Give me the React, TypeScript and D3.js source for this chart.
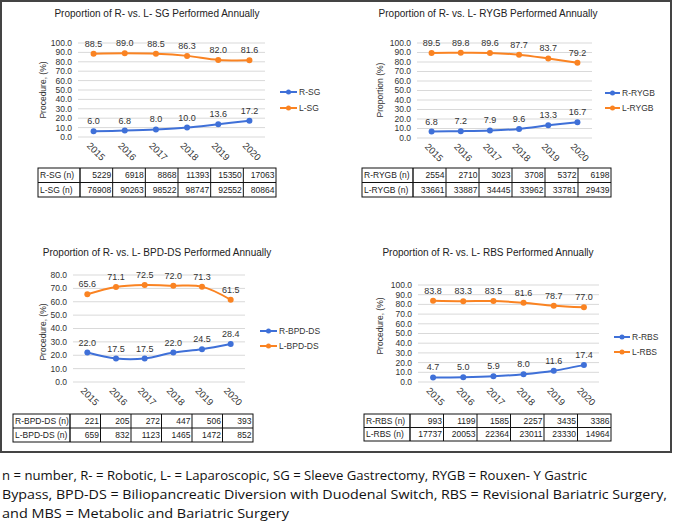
import React from 'react';
import * as d3 from 'd3';

const years = ['2015', '2016', '2017', '2018', '2019', '2020'];

const sgRobotic = [6.0, 6.8, 8.0, 10.0, 13.6, 17.2];
const sgLap = [88.5, 89.0, 88.5, 86.3, 82.0, 81.6];
const sgRoboticN = [5229, 6918, 8868, 11393, 15350, 17063];
const sgLapN = [76908, 90263, 98522, 98747, 92552, 80864];

const rygbRobotic = [6.8, 7.2, 7.9, 9.6, 13.3, 16.7];
const rygbLap = [89.5, 89.8, 89.6, 87.7, 83.7, 79.2];
const rygbRoboticN = [2554, 2710, 3023, 3708, 5372, 6198];
const rygbLapN = [33661, 33887, 34445, 33962, 33781, 29439];

const bpdRobotic = [22.0, 17.5, 17.5, 22.0, 24.5, 28.4];
const bpdLap = [65.6, 71.1, 72.5, 72.0, 71.3, 61.5];
const bpdRoboticN = [221, 205, 272, 447, 506, 393];
const bpdLapN = [659, 832, 1123, 1465, 1472, 852];

const rbsRobotic = [4.7, 5.0, 5.9, 8.0, 11.6, 17.4];
const rbsLap = [83.8, 83.3, 83.5, 81.6, 78.7, 77.0];
const rbsRoboticN = [993, 1199, 1585, 2257, 3435, 3386];
const rbsLapN = [17737, 20053, 22364, 23011, 23330, 14964];

const footerLines = [
  'n = number, R- = Robotic, L- = Laparoscopic, SG = Sleeve Gastrectomy, RYGB = Rouxen- Y Gastric',
  'Bypass, BPD-DS = Biliopancreatic Diversion with Duodenal Switch, RBS = Revisional Bariatric Surgery,',
  'and MBS = Metabolic and Bariatric Surgery',
];

const BLUE = '#3f70d8';
const ORANGE = '#fa8322';
const FONT = "'Liberation Sans', Arial, Helvetica, sans-serif";

type Layout = {
  titleX: number; titleY: number;
  left: number; right: number; top: number; bottom: number;
  yLabelX: number; yLabelY: number;
  legX1: number; legX2: number; legY1: number; legY2: number;
  tLeft: number; tLabelEnd: number; tRight: number; tTop: number; tBottom: number;
};

type PanelCfg = {
  title: string; rName: string; lName: string;
  rVals: number[]; lVals: number[]; rN: number[]; lN: number[];
  yMax: number; yLabel: string; lay: Layout;
};

const panels: PanelCfg[] = [
  {
    title: 'Proportion of R- vs. L- SG Performed Annually', rName: 'R-SG', lName: 'L-SG',
    rVals: sgRobotic, lVals: sgLap, rN: sgRoboticN, lN: sgLapN, yMax: 100, yLabel: 'Procedure, (%)',
    lay: { titleX: 157, titleY: 17, left: 78, right: 265, top: 43, bottom: 137, yLabelX: 43, yLabelY: 90,
      legX1: 280, legX2: 297, legY1: 92, legY2: 108, tLeft: 38, tLabelEnd: 80, tRight: 276, tTop: 168, tBottom: 197 },
  },
  {
    title: 'Proportion of R- vs. L- RYGB Performed Annually', rName: 'R-RYGB', lName: 'L-RYGB',
    rVals: rygbRobotic, lVals: rygbLap, rN: rygbRoboticN, lN: rygbLapN, yMax: 100, yLabel: 'Proportion (%)',
    lay: { titleX: 488, titleY: 17, left: 417, right: 592, top: 43, bottom: 138, yLabelX: 380, yLabelY: 90,
      legX1: 605, legX2: 620, legY1: 93, legY2: 108, tLeft: 362, tLabelEnd: 413, tRight: 611, tTop: 168, tBottom: 197 },
  },
  {
    title: 'Proportion of R- vs. L- BPD-DS Performed Annually', rName: 'R-BPD-DS', lName: 'L-BPD-DS',
    rVals: bpdRobotic, lVals: bpdLap, rN: bpdRoboticN, lN: bpdLapN, yMax: 80, yLabel: 'Procedure, (%)',
    lay: { titleX: 157, titleY: 256, left: 73, right: 245, top: 275, bottom: 382, yLabelX: 43, yLabelY: 332,
      legX1: 260, legX2: 277, legY1: 331, legY2: 346, tLeft: 13, tLabelEnd: 70, tRight: 253, tTop: 414, tBottom: 442 },
  },
  {
    title: 'Proportion of R- vs. L- RBS Performed Annually', rName: 'R-RBS', lName: 'L-RBS',
    rVals: rbsRobotic, lVals: rbsLap, rN: rbsRoboticN, lN: rbsLapN, yMax: 100, yLabel: 'Procedure, (%)',
    lay: { titleX: 488, titleY: 256, left: 418, right: 599, top: 285, bottom: 382, yLabelX: 380, yLabelY: 326,
      legX1: 614, legX2: 630, legY1: 337, legY2: 352, tLeft: 364, tLabelEnd: 410, tRight: 611, tTop: 414, tBottom: 441 },
  },
];

function Panel({ cfg }: { cfg: PanelCfg }) {
  const L = cfg.lay;
  const x = d3.scalePoint<string>().domain(years).range([L.left, L.right]).padding(0.5);
  const y = d3.scaleLinear().domain([0, cfg.yMax]).range([L.bottom, L.top]);
  const ticks = y.ticks(10);
  const fmt = d3.format('.1f');
  const line = d3.line<number>()
    .x((_, i) => x(years[i]) as number)
    .y((d) => y(d))
    .curve(d3.curveCatmullRom.alpha(0.5));

  const series = [
    { vals: cfg.rVals, color: BLUE, name: cfg.rName, ly: L.legY1 },
    { vals: cfg.lVals, color: ORANGE, name: cfg.lName, ly: L.legY2 },
  ];

  const colX = d3.scaleLinear().domain([0, years.length]).range([L.tLabelEnd, L.tRight]);
  const tMid = (L.tTop + L.tBottom) / 2;
  const rows = [
    { label: cfg.rName + ' (n)', vals: cfg.rN, cy: (L.tTop + tMid) / 2 },
    { label: cfg.lName + ' (n)', vals: cfg.lN, cy: (tMid + L.tBottom) / 2 },
  ];

  return (
    <g fontFamily={FONT}>
      <text x={L.titleX} y={L.titleY} textAnchor="middle" fontSize={10} fill="#222">{cfg.title}</text>
      {ticks.map((t) => (
        <g key={t}>
          <line x1={L.left} x2={L.right} y1={y(t)} y2={y(t)} stroke="#d9d9d9" strokeWidth={1} />
          <text x={L.left - 6} y={y(t)} dy="0.35em" textAnchor="end" fontSize={8.5} fill="#333">{fmt(t)}</text>
        </g>
      ))}
      <text transform={`translate(${L.yLabelX},${L.yLabelY}) rotate(-90)`} textAnchor="middle" dy="0.35em" fontSize={8.5} fill="#333">{cfg.yLabel}</text>
      {years.map((yr) => (
        <text key={yr} transform={`translate(${(x(yr) as number) - 5},${L.bottom + 7}) rotate(45)`} dy="0.35em" fontSize={9.5} fill="#333">{yr}</text>
      ))}
      {series.map((s) => (
        <g key={s.name}>
          <path d={line(s.vals) || ''} fill="none" stroke={s.color} strokeWidth={2} />
          {s.vals.map((v, i) => (
            <circle key={i} cx={x(years[i]) as number} cy={y(v)} r={3} fill={s.color} />
          ))}
          {s.vals.map((v, i) => (
            <text key={'l' + i} x={x(years[i]) as number} y={y(v) - 7} textAnchor="middle" fontSize={9} fill="#333">{fmt(v)}</text>
          ))}
          <line x1={L.legX1} x2={L.legX2} y1={s.ly} y2={s.ly} stroke={s.color} strokeWidth={2} />
          <circle cx={(L.legX1 + L.legX2) / 2} cy={s.ly} r={2.5} fill={s.color} />
          <text x={L.legX2 + 2} y={s.ly} dy="0.35em" fontSize={8.5} fill="#333">{s.name}</text>
        </g>
      ))}
      <g>
        <rect x={L.tLeft} y={L.tTop} width={L.tRight - L.tLeft} height={L.tBottom - L.tTop} fill="none" stroke="#111" strokeWidth={1} />
        <line x1={L.tLeft} x2={L.tRight} y1={tMid} y2={tMid} stroke="#111" strokeWidth={1} />
        <line x1={L.tLabelEnd} x2={L.tLabelEnd} y1={L.tTop} y2={L.tBottom} stroke="#111" strokeWidth={1.4} />
        {years.slice(1).map((_, i) => (
          <line key={i} x1={colX(i + 1)} x2={colX(i + 1)} y1={L.tTop} y2={L.tBottom} stroke="#111" strokeWidth={1} />
        ))}
        {rows.map((r) => (
          <g key={r.label}>
            <text x={L.tLeft + 2} y={r.cy} dy="0.35em" fontSize={8.5} fill="#222">{r.label}</text>
            {r.vals.map((v, i) => (
              <text key={i} x={colX(i + 1) - 1.5} y={r.cy} dy="0.35em" textAnchor="end" fontSize={8.5} fill="#222">{String(v)}</text>
            ))}
          </g>
        ))}
      </g>
    </g>
  );
}

const footerWidths = [585, 665, 287];
const footerBaselines = [480, 499, 518];

export default function App() {
  return (
    <svg width={677} height={524} style={{ position: 'absolute', left: 0, top: 0, background: '#fff' }}>
      <rect x={0} y={0} width={677} height={524} fill="#fff" />
      <rect x={1} y={1} width={670} height={451} fill="none" stroke="#444" strokeWidth={2} />
      {panels.map((p) => (
        <Panel key={p.title} cfg={p} />
      ))}
      {footerLines.map((t, i) => (
        <text key={i} x={2} y={footerBaselines[i]} fontSize={13} fill="#111"
          fontFamily="'Open Sans', 'Noto Sans', sans-serif"
          textLength={footerWidths[i]} lengthAdjust="spacingAndGlyphs">{t}</text>
      ))}
    </svg>
  );
}
